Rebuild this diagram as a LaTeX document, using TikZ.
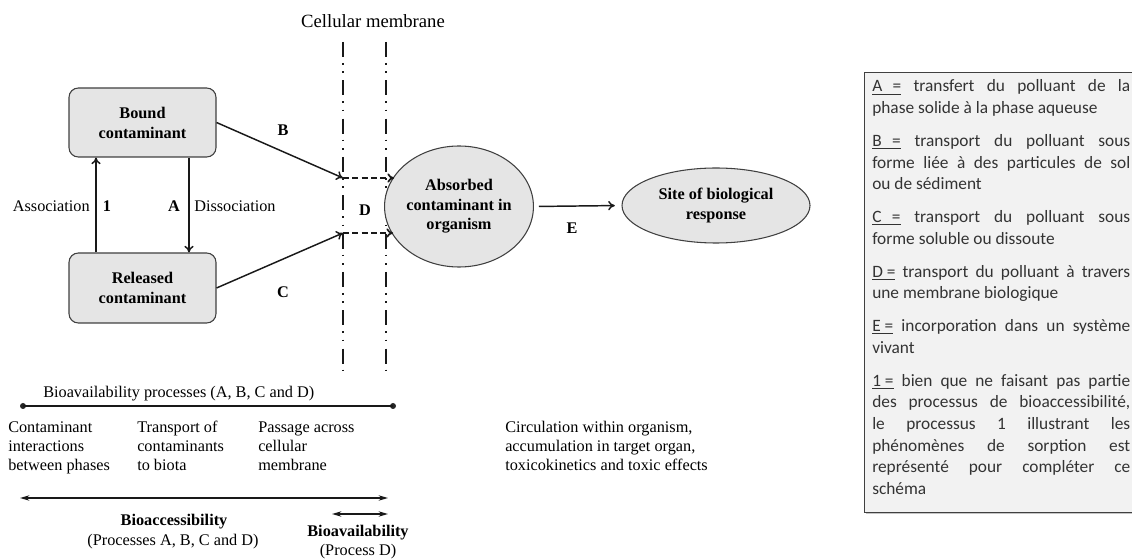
\documentclass[tikz,border=0pt]{standalone}
\usepackage{fontspec}
\setmainfont{Liberation Serif}
\newfontfamily\legendfont{Carlito}
\usetikzlibrary{arrows.meta,shapes.geometric,shadows}
\setlength{\parindent}{0pt}
\newcommand\jline[1]{{\spaceskip=0pt\xspaceskip=0pt\makebox[\hsize][s]{#1}}}
\begin{document}
\begin{tikzpicture}[x=0.75pt,y=-0.75pt,
  box/.style={draw=black!75, fill=black!10, rounded corners=7pt, line width=0.8pt,
    minimum width=110.25pt, minimum height=52pt, inner sep=0pt, align=center,
    font=\bfseries\fontsize{12.2}{15}\selectfont},
  ell/.style={ellipse, draw=black!75, fill=black!10, line width=0.8pt, inner sep=0pt,
    align=center, font=\bfseries\fontsize{12.2}{14.6}\selectfont},
  arr/.style={-{To[length=5pt,width=7pt]}, line width=1.1pt, draw=black!90},
  dasharr/.style={-{To[length=5pt,width=7pt]}, line width=1.3pt, draw=black!90,
    dash pattern=on 4.5pt off 2.5pt},
  membrane/.style={line width=1.5pt, draw=black!90,
    dash pattern=on 11.25pt off 4.5pt on 1.3pt off 5pt on 1.3pt off 5.4pt},
  lbl/.style={font=\bfseries\fontsize{12.2}{14.6}\selectfont, inner sep=0pt},
  txt/.style={font=\fontsize{12.2}{14.6}\selectfont, inner sep=0pt, align=left},
  dotst/.style={circle, fill=black!85, inner sep=0pt, minimum size=4.5pt},
  dbl/.style={{Stealth[length=7pt,width=4pt]}-{Stealth[length=7pt,width=4pt]}, line width=1.1pt, draw=black!90},
  legendbox/.style={draw=black!75, fill=black!5, line width=0.9pt, inner sep=0pt,
    drop shadow={shadow xshift=1pt, shadow yshift=-1pt, fill=black!45}},
  legendtext/.style={inner sep=0pt, text width=193.5pt, text=black!80, align=justify,
    font=\legendfont\fontsize{13}{16.2}\selectfont}
]
\useasboundingbox (0,0) rectangle (1132,559);

% membrane
\node[anchor=base, font=\fontsize{14}{16}\selectfont, inner sep=0pt] (cm) at (373,28) {Cellular membrane};
\coordinate (mLt) at (343,42); \coordinate (mLb) at (343,370);
\coordinate (mRt) at (386,42); \coordinate (mRb) at (386,370);
\draw[membrane] (mLt) -- (mLb);
\draw[membrane] (mRt) -- (mRb);

% boxes
\node[box, minimum height=51.75pt] (bound) at (142.5,122.5) {Bound\\contaminant};
\node[box, minimum height=52.5pt] (released) at (142.5,288) {Released\\contaminant};
\node[ell, minimum width=106.5pt, minimum height=90.75pt] (absorbed) at (459,206.5) {Absorbed\\contaminant in\\organism};
\node[ell, minimum width=141pt, minimum height=56.25pt] (site) at (716,205.5) {Site of biological\\response};

% vertical arrows
\coordinate (ax) at (96,200);
\coordinate (dx) at (189,200);
\draw[arr] (ax |- released.north) -- (ax |- bound.south);
\draw[arr] (dx |- bound.south) -- (dx |- released.north);
\node[txt, anchor=base east] (assoc) at (90,212) {Association};
\node[lbl, anchor=base] (one) at (107,212) {1};
\node[lbl, anchor=base] (lA) at (174,212) {A};
\node[txt, anchor=base west] (dissoc) at (194,212) {Dissociation};

% B, C arrows
\coordinate (m1) at (343,178);
\coordinate (m2) at (343,233);
\coordinate (d1) at (394,178);
\coordinate (d2) at (393,233);
\draw[arr] (bound.east) -- (m1);
\draw[arr] (released.east) -- (m2);
\draw[dasharr] (m1) -- (d1);
\draw[dasharr] (m2) -- (d2);
\node[lbl] (lB) at (283,130) {B};
\node[lbl] (lC) at (283,292) {C};
\node[lbl] (lD) at (365,210) {D};

% E arrow
\draw[arr, shorten <=3.75pt, shorten >=5pt] (absorbed.east) -- (site.west);
\node[lbl] (lE) at (572,228) {E};

% bottom part
\node[txt, anchor=base west] (bap) at (43,398) {Bioavailability processes (A, B, C and D)};
\node[dotst] (b1) at (23,406) {};
\node[dotst] (b2) at (393,406) {};
\draw[line width=1.8pt, draw=black!90] (b1.center) -- (b2.center);

\node[txt, anchor=base west] (col1) at (8,471) {Contaminant\\interactions\\between phases};
\node[txt, anchor=base west] (col2) at (137,471) {Transport of\\contaminants\\to biota};
\node[txt, anchor=base west] (col3) at (258,471) {Passage across\\cellular\\membrane};
\node[txt, anchor=base west] (circ) at (505,471) {Circulation within organism,\\accumulation in target organ,\\toxicokinetics and toxic effects};

\coordinate (ba1) at (20,498); \coordinate (ba2) at (388,498);
\draw[dbl] (ba1) -- (ba2);
\coordinate (bb1) at (332,514); \coordinate (bb2) at (388,514);
\draw[dbl] (bb1) -- (bb2);

\node[lbl, anchor=base] (bioacc) at (174,525) {Bioaccessibility};
\node[txt, anchor=base] (procabcd) at (173,545) {(Processes A, B, C and D)};
\node[lbl, anchor=base] (bioav) at (358,537) {Bioavailability};
\node[txt, anchor=base] (procd) at (358,555) {(Process D)};

% legend
\node[legendbox, anchor=north west, minimum width=207pt, minimum height=330pt] (legend) at (864,72) {};
\node[legendtext, anchor=base west] (legtext) at (872,92) {%
\jline{\underline{A\hspace{0.6em}=} transfert du polluant de la}\\
phase solide à la phase aqueuse\\[8.5pt]
\jline{\underline{B\hspace{0.6em}=} transport du polluant sous}\\
\jline{forme liée à des particules de sol}\\
ou de sédiment\\[8.5pt]
\jline{\underline{C\hspace{0.6em}=} transport du polluant sous}\\
forme soluble ou dissoute\\[8.5pt]
\jline{\underline{D =} transport du polluant à travers}\\
une membrane biologique\\[8.5pt]
\jline{\underline{E =} incorporation dans un système}\\
vivant\\[8.5pt]
\jline{\underline{1 =} bien que ne faisant pas partie}\\
\jline{des processus de bioaccessibilité,}\\
\jline{le processus 1 illustrant les}\\
\jline{phénomènes de sorption est}\\
\jline{représenté pour compléter ce}\\
schéma};
\end{tikzpicture}
\end{document}
